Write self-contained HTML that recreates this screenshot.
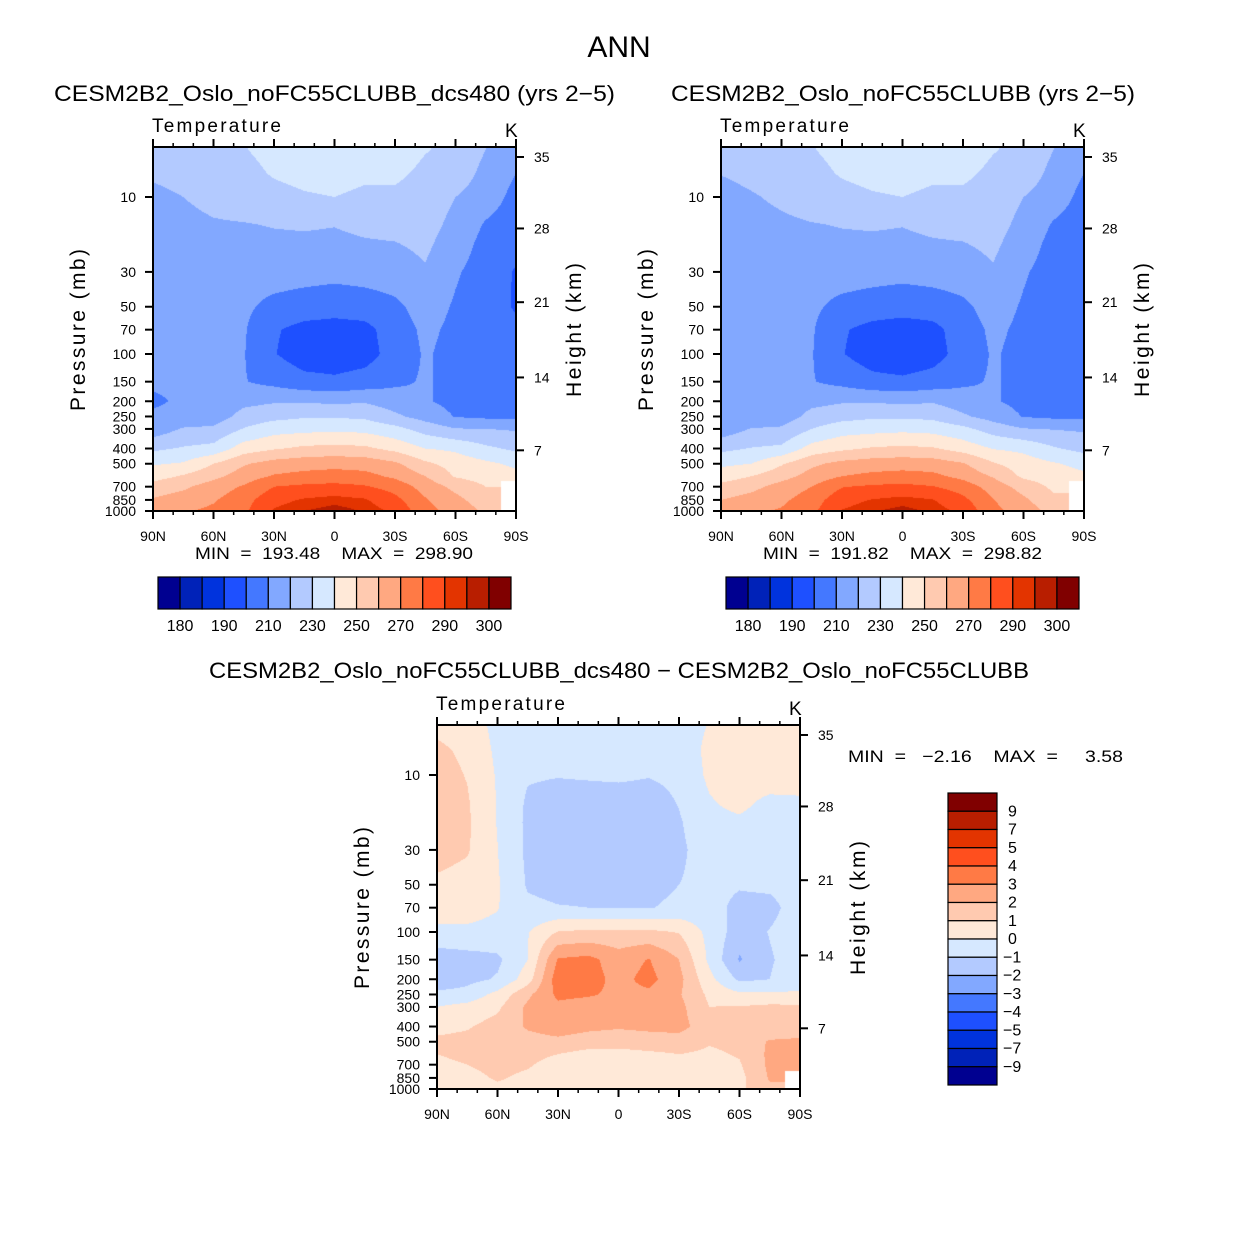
<!DOCTYPE html>
<html><head><meta charset="utf-8">
<style>
html,body{margin:0;padding:0;background:#fff;}
#wrap{position:relative;width:1238px;height:1238px;overflow:hidden;background:#fff;}
canvas{position:absolute;}
svg{position:absolute;left:0;top:0;}
text{font-family:"Liberation Sans",sans-serif;fill:#000;white-space:pre;}
</style></head>
<body>
<div id="wrap">
<canvas id="cA"></canvas>
<canvas id="cB"></canvas>
<canvas id="cD"></canvas>
<svg id="ov" width="1238" height="1238">
<text x="619" y="57" font-size="30" text-anchor="middle">ANN</text>
<text x="54" y="101" font-size="22" textLength="561" lengthAdjust="spacingAndGlyphs">CESM2B2_Oslo_noFC55CLUBB_dcs480 (yrs 2−5)</text>
<text x="671" y="101" font-size="22" textLength="464" lengthAdjust="spacingAndGlyphs">CESM2B2_Oslo_noFC55CLUBB (yrs 2−5)</text>
<text x="209" y="678" font-size="22" textLength="820" lengthAdjust="spacingAndGlyphs">CESM2B2_Oslo_noFC55CLUBB_dcs480 − CESM2B2_Oslo_noFC55CLUBB</text>
<text x="195" y="559" font-size="17" textLength="278" lengthAdjust="spacingAndGlyphs">MIN  =  193.48    MAX  =  298.90</text>
<text x="763" y="559" font-size="17" textLength="279" lengthAdjust="spacingAndGlyphs">MIN  =  191.82    MAX  =  298.82</text>
<text x="848" y="762" font-size="17" textLength="275" lengthAdjust="spacingAndGlyphs">MIN  =   −2.16    MAX  =     3.58</text>
</svg>
</div>
<script>
const lats=[90,75,60,45,30,15,0,-15,-30,-45,-60,-75,-90];
const plevs=[5,7,10,15,20,30,50,70,100,150,200,250,300,400,500,600,700,850,1000];
const tempA=[
[225,226,228,229.5,233,236,237,236,235,230.5,228,220,214],
[222,224,226,227,231,233,234,232,232,228,226,217,210],
[217,220,223,225,227,229,230,228,228,226,220,215,207],
[215,217,219,219.5,220.5,221,220.3,222,223,224,217,209,205],
[214,215,216,217,218,218,218,219,219.5,222,214.5,207,204],
[213,213,214,214,215,214,213,214,215,219,211,206,199],
[212,212,212,212,207,205,204,205,208,214,209,205,199],
[212,211.5,211.5,211,201,197,196,197,205,212,208,205,202],
[211,211,211,210.5,200.5,195,194,196,204,211,207,205,204],
[211,211,211,210.5,207,203,202,204,208,211,207,205.5,205],
[209,211,212,217,219,219,218,219,215,211,207,206,206],
[211,212,214,224,227,229,229,228,222,216,209.5,208,208],
[214,221,222,230.5,236,237,238,237,233,226,220.5,220,219],
[228,231,233,245,249,252,253,252,247,240,238,232,228],
[239,241,250,259,264,266,267,266,262,252,246,242,238],
[246,251,257,265,271,273,274,273,268,260,249,246,243],
[254,258,265,271,280,282,283,281,276,266,257,250,NaN],
[261,265,269,276,287,291,293,291,283,271,263,254,NaN],
[265,269,272,278,291,295,297.5,294.5,288,273,267,258,NaN]];
const tempB=[
[224,226,228,229.5,233,236,237,236,235,230.5,228,220,214],
[220.5,223,226,227,231,233,234,232,232,228,226,217,210],
[216,219,222,225,227,229,230,228,228,226,220,215,207],
[214,216,218,219.5,220.5,221,220.3,222,223,224,217,209,205],
[213,214,215,217,218,218,218,219,219.5,222,214.5,207,204],
[212,212,213,214,215,214,213,214,215,219,211,206,201],
[211,211.5,212,212,207,205,204,205,208,214,209,205,201],
[211,211,211.5,211,201,197,195.5,197,205,212,208,205,202.5],
[211,211,211,210.5,200.5,195,193,196,204,211,207,205,204],
[211,211,211,210.5,207,203,202,204,208,211,207,205.5,205],
[211,212,212.5,217,219,219,218,219,215,211,207,206,206],
[212,212.5,214,223.5,226.5,228.5,228.5,227.5,221.5,216,209.5,208,208],
[214,220.5,221.5,230,235.5,236.5,237.5,236.5,232.5,225.5,220.5,219.5,218.5],
[227.5,230.5,232,244,248,251,252,251,246,239.5,237.5,231,227],
[238,240,249,258,263,265,266,265,261,251,245,241,237],
[245,250,256,264,270,272.5,273.5,272.5,267,259,248,245,242],
[253,257,264,270,279.5,281.5,282.5,280.5,275.5,265.5,256,248,NaN],
[260,264,268,275,286.5,290.5,292.5,290.5,282.5,270.5,262,252,NaN],
[264.5,268.5,271,277.5,290.5,294.5,297,294,287.5,272.5,266,256,NaN]];
const diffAB=[
[0.8,0.6,-0.3,-0.5,-0.5,-0.5,-0.5,-0.5,-0.4,0.05,0.5,0.6,0.6],
[1.2,0.8,-0.2,-0.6,-0.6,-0.6,-0.6,-0.6,-0.5,0.2,0.6,0.6,0.6],
[1.4,0.95,-0.1,-0.9,-0.95,-0.9,-0.85,-0.95,-0.8,0.2,0.6,0.7,0.6],
[1.5,1.1,-0.05,-1.15,-1.4,-1.4,-1.4,-1.4,-0.95,-0.1,0.3,-0.3,-0.2],
[1.5,1.15,-0.05,-1.2,-1.5,-1.5,-1.5,-1.5,-1.1,-0.3,-0.2,-0.5,-0.5],
[1.4,1.1,0.02,-1.2,-1.5,-1.5,-1.5,-1.5,-1.2,-0.5,-0.6,-0.6,-0.6],
[0.8,0.6,0.1,-1.1,-1.3,-1.3,-1.3,-1.3,-1.0,-0.7,-0.9,-0.8,-0.5],
[0.4,0.4,0.05,-0.8,-0.95,-1.0,-1.0,-1.05,-0.8,-0.6,-1.3,-1.3,-0.5],
[-0.2,-0.2,-0.3,-0.05,1.05,1.2,1.2,1.2,0.95,-0.3,-1.5,-0.95,-0.4],
[-1.6,-1.4,-1.2,0.0,3.1,3.3,2.5,3.05,2.0,-0.2,-2.1,-1.1,-0.5],
[-2.05,-1.3,-0.9,0.5,3.6,3.4,2.7,3.3,2.3,0.3,-1.2,-1.0,-0.3],
[-0.6,-0.6,0.3,1.8,3.2,3.1,2.8,2.8,2.1,0.8,0.2,0.2,0.1],
[0.0,0.3,0.8,2.2,2.8,2.6,2.6,2.6,2.3,1.0,1.05,1.2,1.2],
[0.7,0.9,1.4,2.1,2.4,2.2,2.1,2.2,2.3,1.5,1.2,1.3,1.4],
[1.2,1.3,1.5,1.7,1.8,1.6,1.5,1.6,1.6,1.1,1.3,2.1,2.2],
[1.0,1.1,1.2,1.3,1.0,0.6,0.6,0.8,1.0,0.8,1.1,2.2,2.4],
[0.9,1.0,1.3,1.1,0.6,0.5,0.5,0.5,0.5,0.5,0.9,2.2,2.5],
[0.6,0.7,1.1,0.8,0.5,0.4,0.4,0.4,0.4,0.5,0.7,2.1,NaN],
[0.5,0.6,0.8,0.6,0.4,0.3,0.3,0.3,0.3,0.4,0.8,1.8,NaN]];
const tempLevels=[180,185,190,200,210,220,230,240,250,260,270,280,290,295,300];
const tempBarLabels=[180,190,210,230,250,270,290,300];
const diffLevels=[-9,-7,-5,-4,-3,-2,-1,0,1,2,3,4,5,7,9];
const pressureTicks=[10,30,50,70,100,150,200,250,300,400,500,700,850,1000];
const heightTicks=[7,14,21,28,35];
const latMajor=[90,60,30,0,-30,-60,-90];
const latLabels=['90N','60N','30N','0','30S','60S','90S'];
const latMinor=[80,70,50,40,20,10,-10,-20,-40,-50,-70,-80];
const palette=['#000090','#0022b8','#0033dd','#1e50ff','#4478ff','#82a8ff','#b3caff','#d6e8ff','#ffe9d8','#ffcab0','#ffa881','#ff7a45','#ff4f1e','#e33400','#b81e00','#800000'];

const W=363,H=364,PXDEC=157;
const panels=[
 {id:'cA',x0:153,y0:147,grid:tempA,levels:tempLevels,key:'dcs480'},
 {id:'cB',x0:721,y0:147,grid:tempB,levels:tempLevels,key:'control'},
 {id:'cD',x0:437,y0:725,grid:diffAB,levels:diffLevels,key:'difference'}];
const logP=plevs.map(p=>Math.log10(p));
function xOf(P,lat){return P.x0+(90-lat)/180*W;}
function yOf(P,p){return P.y0+H-PXDEC*Math.log10(1000/p);}
function pOfHeight(zkm){const z=zkm*1000;
 if(z<=11000)return 1013.25*Math.pow(1-2.25577e-5*z,5.25588);
 if(z<=20000)return 226.32*Math.exp(-(z-11000)/6341.6);
 return 54.749*Math.pow(1+(z-20000)/216650,-34.163);}
function hex(c){return [parseInt(c.substr(1,2),16),parseInt(c.substr(3,2),16),parseInt(c.substr(5,2),16)];}
const rgb=palette.map(hex);
function band(v,lv){let k=0;while(k<lv.length&&v>=lv[k])k++;return k;}

panels.forEach(P=>{
 const cv=document.getElementById(P.id);
 cv.width=W;cv.height=H;cv.style.left=P.x0+'px';cv.style.top=P.y0+'px';
 const ctx=cv.getContext('2d');const img=ctx.createImageData(W,H);const d=img.data;
 const nl=lats.length;
 for(let py=0;py<H;py++){
  const lp=3-(H-(py+0.5))/PXDEC;
  let j=0;while(j<logP.length-2&&lp>logP[j+1])j++;
  let t=(lp-logP[j])/(logP[j+1]-logP[j]);t=Math.max(0,Math.min(1,t));
  for(let px=0;px<W;px++){
   const lat=90-(px+0.5)/W*180;
   let fi=(90-lat)/(180/(nl-1));let i=Math.min(nl-2,Math.floor(fi));let s=fi-i;
   const g=P.grid;
   const c=[[g[j][i],(1-s)*(1-t)],[g[j][i+1],s*(1-t)],[g[j+1][i],(1-s)*t],[g[j+1][i+1],s*t]];
   const near=g[t<0.5?j:j+1][s<0.5?i:i+1];
   const o=(py*W+px)*4;
   if(isNaN(near)){d[o]=255;d[o+1]=255;d[o+2]=255;d[o+3]=255;continue;}
   let sw=0,sv=0;c.forEach(q=>{if(!isNaN(q[0])){sw+=q[1];sv+=q[0]*q[1];}});
   const v=sv/sw;const col=rgb[band(v,P.levels)];
   d[o]=col[0];d[o+1]=col[1];d[o+2]=col[2];d[o+3]=255;
  }
 }
 ctx.putImageData(img,0,0);
});

const NS='http://www.w3.org/2000/svg';const ov=document.getElementById('ov');
function mk(tag,attrs,parent){const e=document.createElementNS(NS,tag);for(const k in attrs)e.setAttribute(k,attrs[k]);(parent||ov).appendChild(e);return e;}
function line(x1,y1,x2,y2,w,par){return mk('line',{x1:x1,y1:y1,x2:x2,y2:y2,stroke:'#000','stroke-width':w},par);}
function txt(s,x,y,size,anchor,par){const e=mk('text',{x:x,y:y,'font-size':size,'text-anchor':anchor||'start'},par);e.textContent=s;return e;}

panels.forEach(P=>{
 const g=mk('g',{});
 
 
 const r=mk('rect',{x:P.x0,y:P.y0,width:W,height:H,fill:'none',stroke:'#000','stroke-width':2},g);
 
 
 latMajor.forEach((lat,k)=>{const x=xOf(P,lat);
  line(x,P.y0,x,P.y0-8,2,g);line(x,P.y0+H,x,P.y0+H+8,2,g);
  const t=txt(latLabels[k],x,P.y0+H+30,14,'middle',g);
  
  });
 latMinor.forEach(lat=>{const x=xOf(P,lat);line(x,P.y0,x,P.y0-4,1.5,g);line(x,P.y0+H,x,P.y0+H+4,1.5,g);});
 pressureTicks.forEach(p=>{const y=yOf(P,p);line(P.x0,y,P.x0-8,y,2,g);
  const t=txt(String(p),P.x0-17,y+5,14,'end',g);
  
  });
 heightTicks.forEach(h=>{const y=yOf(P,pOfHeight(h));line(P.x0+W,y,P.x0+W+8,y,2,g);
  const t=txt(String(h),P.x0+W+18,y+5,14,'start',g);
  
  });
 const tt=txt('Temperature',P.x0-1,P.y0-15,19,'start',g);
 tt.setAttribute('textLength','129');
 
 
 const kk=txt('K',P.x0+352,P.y0-10,19,'start',g);
 
 
 const yl=txt('Pressure (mb)',0,0,21,'middle',g);
 yl.setAttribute('transform','translate('+(P.x0-68)+','+(P.y0+183)+') rotate(-90)');
 yl.setAttribute('textLength','162');
 
 
 const hl=txt('Height (km)',0,0,21,'middle',g);
 hl.setAttribute('transform','translate('+(P.x0+428)+','+(P.y0+183)+') rotate(-90)');
 hl.setAttribute('textLength','134');
 
 
});

[158,726].forEach((bx,n)=>{
 const g=mk('g',{});
 
 
 const bw=(511-158)/palette.length;
 palette.forEach((c,k)=>{const r=mk('rect',{x:bx+k*bw,y:577,width:bw,height:32,fill:c,stroke:'#000','stroke-width':1.2},g);
  
  });
 tempBarLabels.forEach(v=>{const k=tempLevels.indexOf(v)+1;
  const t=txt(String(v),bx+k*bw,631,16,'middle',g);
  
  });
});
(function(){
 const g=mk('g',{});
 
 
 const top=793,bh=(1085-793)/palette.length;
 palette.slice().reverse().forEach((c,k)=>{const r=mk('rect',{x:948,y:top+k*bh,width:49,height:bh,fill:c,stroke:'#000','stroke-width':1.2},g);
  
  });
 diffLevels.slice().reverse().forEach((v,k)=>{
  const t=txt(v<0?'−'+Math.abs(v):String(v),v<0?1003:1008,top+(k+1)*bh+5,16,'start',g);
  
  });
})();
</script>
</body></html>
